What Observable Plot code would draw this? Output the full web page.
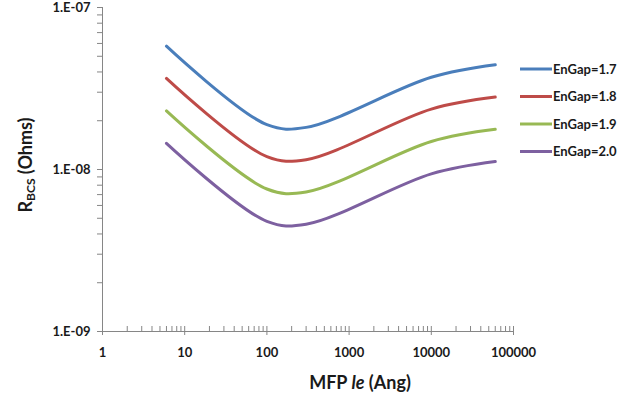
<!DOCTYPE html>
<html>
<head>
<meta charset="utf-8">
<script src="https://cdn.jsdelivr.net/npm/d3@7"></script>
<script src="https://cdn.jsdelivr.net/npm/@observablehq/plot@0.6"></script>
<style>
  html, body { margin: 0; padding: 0; background: #fff; }
  #chart svg { display: block; }
</style>
</head>
<body>
<div id="chart"></div>
<script>
// Mean free path (Angstrom)
const mfp = [6, 100, 300, 10000, 60000];
// R_BCS (Ohms) for each energy gap
const gap17 = [5.77e-8, 1.89e-8, 1.82e-8, 3.71e-8, 4.43e-8];
const gap18 = [3.65e-8, 1.20e-8, 1.15e-8, 2.36e-8, 2.80e-8];
const gap19 = [2.30e-8, 7.58e-9, 7.26e-9, 1.49e-8, 1.77e-8];
const gap20 = [1.45e-8, 4.78e-9, 4.59e-9, 9.40e-9, 1.12e-8];
const seriesNames = ["EnGap=1.7", "EnGap=1.8", "EnGap=1.9", "EnGap=2.0"];
const seriesColors = ["#4a7ebb", "#be4b48", "#98b954", "#7d60a0"];
const xTicks = [1, 10, 100, 1000, 10000, 100000];
const xTickLabels = ["1", "10", "100", "1000", "10000", "100000"];
const yTicks = [1e-9, 1e-8, 1e-7];
const yTickLabels = ["1.E-09", "1.E-08", "1.E-07"];

const seriesValues = [gap17, gap18, gap19, gap20];
const rows = [];
seriesValues.forEach((vals, s) => vals.forEach((v, i) => rows.push({series: seriesNames[s], x: mfp[i], y: v})));

const xMinor = [];
for (let d = 1; d < 100000; d *= 10) for (let k = 2; k <= 9; k++) xMinor.push(d * k);
const yMinor = [];
for (let d = 1e-9; d < 9e-8; d *= 10) for (let k = 2; k <= 9; k++) yMinor.push(d * k);

const W = 635, H = 399;
const mL = 102, mR = 122, mT = 7, mB = 68;
const innerH = H - mT - mB;
const axisColor = "#868686";
const font = "Lato, 'Open Sans', sans-serif";

const plot = Plot.plot({
  width: W, height: H,
  marginLeft: mL, marginRight: mR, marginTop: mT, marginBottom: mB,
  style: {fontFamily: font, background: "#fff", overflow: "visible"},
  x: {type: "log", domain: [1, 100000], axis: null},
  y: {type: "log", domain: [1e-9, 1e-7], axis: null},
  color: {domain: seriesNames, range: seriesColors},
  marks: [
    // axis lines
    Plot.ruleX([1], {stroke: axisColor, strokeWidth: 1}),
    Plot.ruleY([1e-9], {stroke: axisColor, strokeWidth: 1}),
    // y ticks (outside)
    Plot.tickY(yMinor, {y: d => d, stroke: axisColor, insetLeft: -5, insetRight: W - mL - mR}),
    Plot.tickY(yTicks, {y: d => d, stroke: axisColor, insetLeft: -5, insetRight: W - mL - mR}),
    // x ticks: minor inside, major crossing
    Plot.tickX(xMinor, {x: d => d, stroke: axisColor, insetTop: innerH - 5}),
    Plot.tickX(xTicks, {x: d => d, stroke: axisColor, insetTop: innerH - 5, insetBottom: -4}),
    // tick labels
    Plot.text(yTicks, {x: 1, y: d => d, text: (d, i) => yTickLabels[i], textAnchor: "end", dx: -12,
      fontSize: 13, fontWeight: "bold", fill: "#1a1a1a"}),
    Plot.text(xTicks, {x: d => d, y: 1e-9, text: (d, i) => xTickLabels[i], dy: 21,
      fontSize: 13, fontWeight: "bold", fill: "#1a1a1a"}),
    // series
    Plot.line(rows, {x: "x", y: "y", z: "series", stroke: "series", strokeWidth: 3,
      curve: "catmull-rom", tension: 0.5})
  ]
});

const svg = d3.select(plot);
// Axis titles
const yt = svg.append("text")
  .attr("transform", `translate(32,${mT + innerH / 2 - 4}) rotate(-90)`)
  .attr("text-anchor", "middle")
  .attr("font-family", font).attr("font-weight", "bold").attr("font-size", 18).attr("fill", "#1a1a1a");
yt.append("tspan").text("R");
yt.append("tspan").text("BCS").attr("font-size", 12).attr("dy", 3);
yt.append("tspan").text(" (Ohms)").attr("dy", -3);

const xt = svg.append("text")
  .attr("x", 360).attr("y", 389)
  .attr("text-anchor", "middle")
  .attr("font-family", font).attr("font-weight", "bold").attr("font-size", 18).attr("fill", "#1a1a1a");
xt.append("tspan").text("MFP ");
xt.append("tspan").text("le").attr("font-style", "italic");
xt.append("tspan").text(" (Ang)");

// Legend
const lg = svg.append("g").attr("text-anchor", "start");
seriesNames.forEach((name, i) => {
  const y = 69 + i * 27.5;
  lg.append("line").attr("x1", 520).attr("x2", 552).attr("y1", y).attr("y2", y)
    .attr("stroke", seriesColors[i]).attr("stroke-width", 3);
  lg.append("text").attr("x", 553).attr("y", y).attr("dy", "0.35em")
    .attr("text-anchor", "start")
    .attr("font-family", font).attr("font-weight", "bold").attr("font-size", 13).attr("fill", "#1a1a1a")
    .text(name);
});

document.getElementById("chart").append(plot);
</script>
</body>
</html>
